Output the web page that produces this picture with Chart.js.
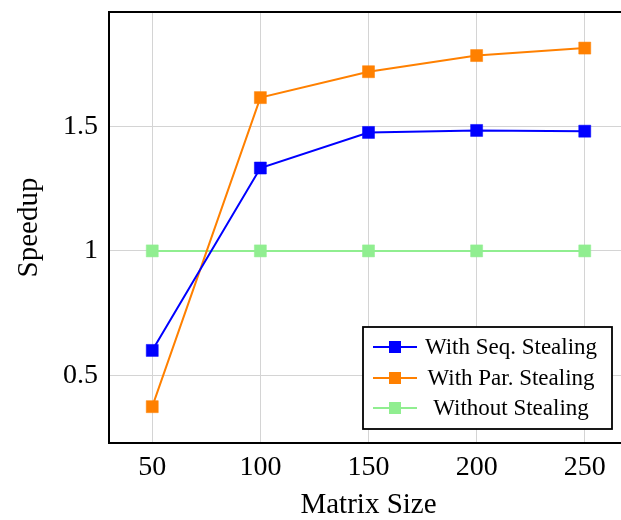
<!DOCTYPE html>
<html>
<head>
<meta charset="utf-8">
<script src="https://cdn.jsdelivr.net/npm/chart.js@4/dist/chart.umd.min.js"></script>
<style>
  html, body { margin: 0; padding: 0; background: #fff; overflow: hidden; }
  #wrap { width: 640px; height: 520px; }
</style>
</head>
<body>
<div id="wrap"><canvas id="mychart" width="640" height="520"></canvas></div>
<script>
var sizes = [50, 100, 150, 200, 250]
var seqStealing = [0.60, 1.333, 1.476, 1.484, 1.481]
var parStealing = [0.374, 1.616, 1.72, 1.785, 1.815]
var noStealing = [1, 1, 1, 1, 1]
var xTicks = [50, 100, 150, 200, 250]
var yTicks = [0.5, 1, 1.5]

var serif = "'Liberation Serif', 'DejaVu Serif', serif"

function pts(ys) {
    var out = []
    for (var i = 0; i < sizes.length; i++) out.push({x: sizes[i], y: ys[i]})
    return out
}

function series(label, ys, color) {
    return {
        label: label,
        data: pts(ys),
        borderColor: color,
        backgroundColor: color,
        borderWidth: 2,
        pointStyle: 'rect',
        pointRadius: 8.5,
        pointHoverRadius: 8.5,
        pointBorderWidth: 0.5,
        pointBorderColor: color,
        tension: 0
    }
}

// frame round the plot area (pgfplots style box)
var frame = {
    id: 'frame',
    beforeDatasetsDraw: function(chart) {
        var a = chart.chartArea, ctx = chart.ctx
        ctx.save()
        ctx.strokeStyle = '#000'
        ctx.lineWidth = 2
        ctx.strokeRect(a.left, a.top, a.right - a.left, a.bottom - a.top)
        ctx.restore()
    }
}

// legend box inside the plot, south east
var boxLegend = {
    id: 'boxLegend',
    afterDatasetsDraw: function(chart) {
        var ctx = chart.ctx
        var x0 = 363, y0 = 327, w = 249, h = 102
        ctx.save()
        ctx.fillStyle = '#fff'
        ctx.fillRect(x0, y0, w, h)
        ctx.strokeStyle = '#000'
        ctx.lineWidth = 1.8
        ctx.strokeRect(x0, y0, w, h)
        var rows = [347, 378, 408]
        chart.data.datasets.forEach(function(ds, i) {
            var y = rows[i]
            ctx.strokeStyle = ds.borderColor
            ctx.lineWidth = 2
            ctx.beginPath()
            ctx.moveTo(373, y)
            ctx.lineTo(417, y)
            ctx.stroke()
            ctx.fillStyle = ds.backgroundColor
            ctx.fillRect(389, y - 6, 12, 12)
            ctx.fillStyle = '#000'
            ctx.font = "23px " + serif
            ctx.textAlign = 'center'
            ctx.textBaseline = 'alphabetic'
            ctx.fillText(ds.label, 511, y + 7)
        })
        ctx.restore()
    }
}

var mychart = document.getElementById("mychart").getContext("2d")
var chart = new Chart(mychart, {
    type: 'line',
    data: {
        datasets: [
            series('With Seq. Stealing', seqStealing, '#0000ff'),
            series('With Par. Stealing', parStealing, '#ff8000'),
            series('Without Stealing', noStealing, '#90ee90')
        ]
    },
    options: {
        responsive: false,
        animation: false,
        devicePixelRatio: 1,
        layout: { autoPadding: false, padding: { top: 12, right: 12, left: 0, bottom: 0 } },
        plugins: { legend: { display: false }, tooltip: { enabled: false } },
        scales: {
            x: {
                type: 'linear',
                min: 30,
                max: 270,
                afterBuildTicks: function(s) { s.ticks = xTicks.map(function(v) { return {value: v} }) },
                afterFit: function(s) { s.height = 77; s.paddingLeft = 0; s.paddingRight = 0 },
                grid: { color: '#d4d4d4', lineWidth: 1, drawTicks: false },
                border: { display: false },
                ticks: { color: '#000', padding: 8, font: { family: serif, size: 28 } },
                title: { display: true, text: 'Matrix Size', color: '#000', padding: { top: 0, bottom: -3 }, font: { family: serif, size: 29 } }
            },
            y: {
                type: 'linear',
                min: 0.228,
                max: 1.96,
                afterBuildTicks: function(s) { s.ticks = yTicks.map(function(v) { return {value: v} }) },
                afterFit: function(s) { s.width = 109; s.paddingTop = 0; s.paddingBottom = 0 },
                grid: { color: '#d4d4d4', lineWidth: 1, drawTicks: false },
                border: { display: false },
                ticks: { color: '#000', padding: 11, font: { family: serif, size: 28 }, callback: function(v) { return String(v) } },
                title: { display: true, text: 'Speedup', color: '#000', padding: { top: 12, bottom: 0 }, font: { family: serif, size: 29 } }
            }
        }
    },
    plugins: [frame, boxLegend]
})
</script>
</body>
</html>
